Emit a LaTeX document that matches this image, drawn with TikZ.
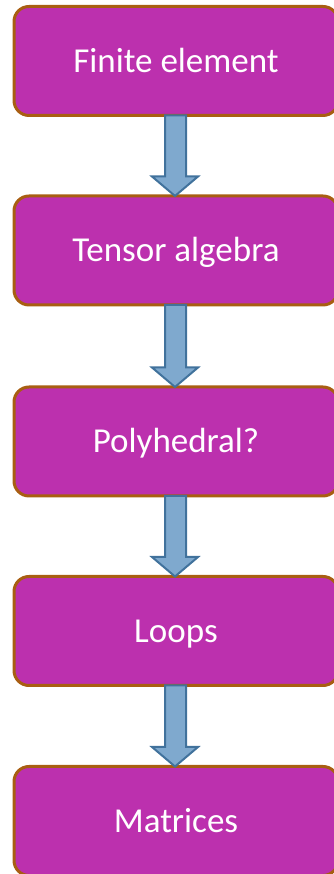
\documentclass[tikz,border=0pt]{standalone}
\usepackage{fontspec}
\setmainfont{Carlito}
\usetikzlibrary{calc}
\definecolor{boxfill}{RGB}{188,48,174}
\definecolor{boxline}{RGB}{168,94,18}
\definecolor{arrfill}{RGB}{127,169,206}
\definecolor{arrline}{RGB}{65,114,156}
\begin{document}
\begin{tikzpicture}[x=1pt,y=1pt,
  stagebox/.style={draw=boxline, fill=boxfill, line width=3pt, rounded corners=15pt,
    minimum width=324pt, minimum height=109pt, inner sep=0pt, outer sep=0pt,
    text height=22.5pt, text depth=0pt,
    text=white, font=\fontsize{35}{40}\selectfont},
  flowarrow/.style={draw=arrline, fill=arrfill, line width=2pt, line join=miter}]
\useasboundingbox (0,0) rectangle (333,874);
\node[stagebox] (n1) at (176,874-61) {Finite element};
\node[stagebox] (n2) at (176,874-250.5) {Tensor algebra};
\node[stagebox] (n3) at (176,874-441.5) {Polyhedral?};
\node[stagebox] (n4) at (176,874-631) {Loops};
\node[stagebox] (n5) at (176,874-821) {Matrices};
\foreach \a/\b in {n1/n2,n2/n3,n3/n4,n4/n5}{
  \draw[flowarrow] ($(\a.south)+(-11,0)$) -- ($(\a.south)+(10,0)$)
    -- ($(\b.north)+(10,19.5)$) -- ($(\b.north)+(22,19.5)$)
    -- ($(\b.north)+(-1,0)$) -- ($(\b.north)+(-24,19.5)$)
    -- ($(\b.north)+(-11,19.5)$) -- cycle;
}
\end{tikzpicture}
\end{document}
